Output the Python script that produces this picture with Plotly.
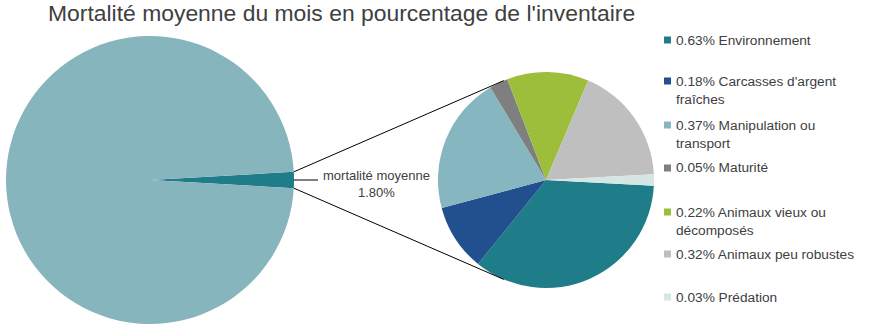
import plotly.graph_objects as go
import math

# ---- data ----
main_labels = ["mortalité moyenne", "autres"]
main_values = [1.80, 98.20]
detail_labels = ["Environnement", "Carcasses d'argent<br>fraîches", "Manipulation ou<br>transport",
                 "Maturité", "Animaux vieux ou<br>décomposés", "Animaux peu robustes", "Prédation"]
detail_values = [0.63, 0.18, 0.37, 0.05, 0.22, 0.32, 0.03]
title_text = "Mortalité moyenne du mois en pourcentage de l'inventaire"

# ---- styles / layout ----
W, H = 869, 330
detail_colors = ["#1E7D88", "#22508F", "#86B6BF", "#7F7F7F", "#9DBE3A", "#BFBFBF", "#D5E6E4"]
main_colors = ["#1E7D88", "#86B5BE"]
txt = "#404040"
font_family = "Liberation Sans, Arial, sans-serif"

big_c, big_r = (150, 180), 144
small_c, small_r = (546, 180), 108
legend_y = [40, 81, 125, 168, 212, 254, 297]

def px(x):
    return x / W

def py(y):
    return 1 - y / H

def dom(c, r):
    return dict(x=[px(c[0] - r), px(c[0] + r)], y=[py(c[1] + r), py(c[1] - r)])

main_share = main_values[0] / sum(main_values) * 360
fig = go.Figure()
fig.add_trace(go.Pie(labels=main_labels, values=main_values, sort=False, direction="clockwise",
                     rotation=90 - main_share / 2, domain=dom(big_c, big_r),
                     marker=dict(colors=main_colors, line=dict(width=0)),
                     textinfo="none", hoverinfo="label+value", showlegend=False))
fig.add_trace(go.Pie(labels=detail_labels, values=detail_values, sort=False, direction="clockwise",
                     rotation=93, domain=dom(small_c, small_r),
                     marker=dict(colors=detail_colors, line=dict(width=0)),
                     textinfo="none", hoverinfo="label+value", showlegend=False))

shapes = []
ann = []
# connector lines from the big pie's small slice to the detail pie
half = math.radians(main_share / 2)
x0 = big_c[0] + big_r * math.cos(half)
ytop = big_c[1] - big_r * math.sin(half)
ybot = big_c[1] + big_r * math.sin(half)
ang = math.radians(113)
xs = small_c[0] + small_r * math.cos(ang)
for y0, y1 in [(ytop, small_c[1] - small_r * math.sin(ang)), (ybot, small_c[1] + small_r * math.sin(ang))]:
    shapes.append(dict(type="line", xref="paper", yref="paper", x0=px(x0), y0=py(y0), x1=px(xs), y1=py(y1),
                       line=dict(color="#000000", width=1)))
shapes.append(dict(type="line", xref="paper", yref="paper", x0=px(x0), y0=py(big_c[1]), x1=px(318), y1=py(big_c[1]),
                   line=dict(color="#000000", width=1)))
ann.append(dict(xref="paper", yref="paper", x=px(376), y=py(184), xanchor="center", yanchor="middle",
                text=f"{main_labels[0]}<br>{main_values[0]:.2f}%", showarrow=False,
                font=dict(size=13, color=txt, family=font_family)))

# legend
for i, (lab, v, c) in enumerate(zip(detail_labels, detail_values, detail_colors)):
    y = legend_y[i]
    shapes.append(dict(type="rect", xref="paper", yref="paper", x0=px(664), x1=px(671), y0=py(y + 3.5), y1=py(y - 3.5),
                       fillcolor=c, line=dict(width=0)))
    ann.append(dict(xref="paper", yref="paper", x=px(674), y=py(y - 9.5), xanchor="left", yanchor="top",
                    align="left", text=f"{v:.2f}% {lab}", showarrow=False,
                    font=dict(size=13.7, color=txt, family=font_family)))

ann.append(dict(xref="paper", yref="paper", x=px(341), y=py(13.5), xanchor="center", yanchor="middle",
                text=title_text, showarrow=False, font=dict(size=22.9, color=txt, family=font_family)))

fig.update_layout(width=W, height=H, margin=dict(l=0, r=0, t=0, b=0), paper_bgcolor="white",
                  plot_bgcolor="white", shapes=shapes, annotations=ann, showlegend=False)
fig.write_html("out.html")
